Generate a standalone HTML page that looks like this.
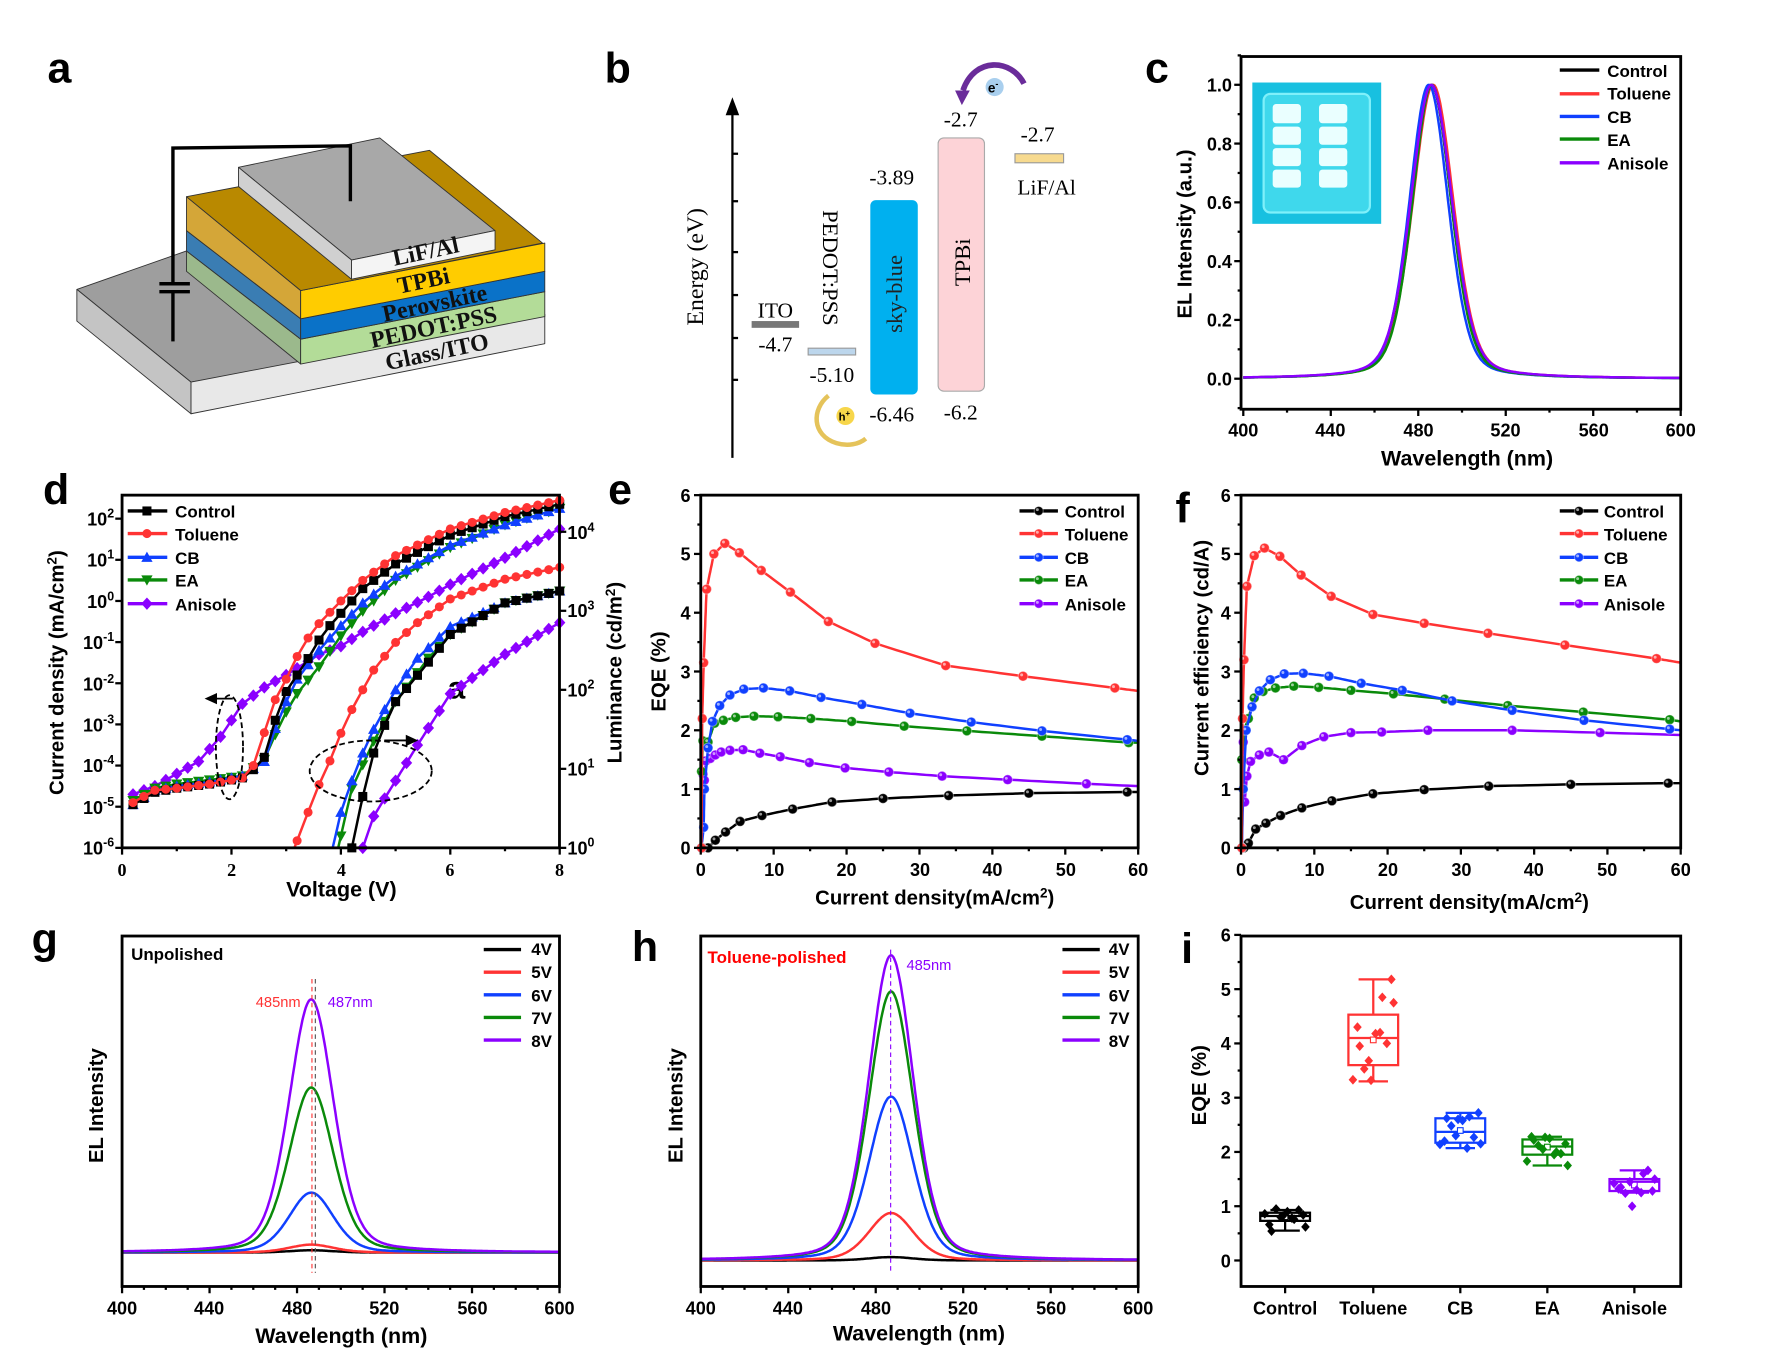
<!DOCTYPE html>
<html><head><meta charset="utf-8"><style>
html,body{margin:0;padding:0;background:#fff;}
svg{display:block;}
text{font-family:"Liberation Sans",Arial,sans-serif;}
.serif,.serif text,text.serif{font-family:"Liberation Serif","Times New Roman",serif;}
.b{font-weight:bold;}
</style></head><body>
<svg id="s" xmlns="http://www.w3.org/2000/svg" width="1770" height="1369" viewBox="0 0 1566 1211" preserveAspectRatio="none">
<rect width="1566" height="1211" fill="#fff"/>
<g class="b" font-size="38" font-weight="bold">
<text x="42" y="73">a</text><text x="535" y="73">b</text><text x="1013" y="73">c</text>
<text x="38" y="446">d</text><text x="538" y="446">e</text><text x="1040" y="462">f</text>
<text x="28" y="843">g</text><text x="559" y="850">h</text><text x="1045" y="852">i</text>
</g>

<!-- ===== panel a ===== -->
<g stroke="#333" stroke-width="0.8" stroke-linejoin="round">
<polygon points="68,256 165,222 266,322 169,338" fill="#9e9e9e"/>
<polygon points="68,256 169,338 169,366 68,284" fill="#c4c4c4"/>
<polygon points="169,338 482,278 482,304 169,366" fill="#e8e8e8"/>
<polygon points="165,222 266,300 266,322 165,240" fill="#9bb98c"/>
<polygon points="266,300 482,258 482,280 266,322" fill="#b3dc98"/>
<polygon points="165,204 266,282 266,300 165,222" fill="#3a7db3"/>
<polygon points="266,282 482,240 482,258 266,300" fill="#0a72c8"/>
<polygon points="165,174 266,257 266,282 165,204" fill="#d4a638"/>
<polygon points="266,257 482,215 482,240 266,282" fill="#ffcc00"/>
<polygon points="165,174 380,133 480,215 266,257" fill="#b98900"/>
<polygon points="211,148 336,122 438,204 311,230" fill="#a8a8a8"/>
<polygon points="211,148 311,230 311,247 211,165" fill="#d0d0d0"/>
<polygon points="311,230 438,204 438,221 311,247" fill="#f4f4f4"/>
</g>
<g fill="none" stroke="#000" stroke-width="3">
<polyline points="153,302 153,258"/><polyline points="153,250 153,131 310,129 310,178"/>
<line x1="141" y1="251" x2="168" y2="251"/><line x1="141" y1="258" x2="168" y2="258"/>
</g>
<g class="serif b" font-size="21" font-weight="bold" fill="#111">
<text transform="translate(378,229) rotate(-12)" text-anchor="middle">LiF/Al</text>
<text transform="translate(376,255) rotate(-12)" text-anchor="middle">TPBi</text>
<text transform="translate(386,275) rotate(-12)" text-anchor="middle">Perovskite</text>
<text transform="translate(385,296) rotate(-12)" text-anchor="middle">PEDOT:PSS</text>
<text transform="translate(388,318) rotate(-12)" text-anchor="middle">Glass/ITO</text>
</g>

<!-- ===== panel b ===== -->
<g>
<line x1="648" y1="405" x2="648" y2="98" stroke="#000" stroke-width="2"/>
<polygon points="648,86 642,102 654,102" fill="#000"/>
<g stroke="#000" stroke-width="2"><line x1="648" y1="136" x2="653" y2="136"/><line x1="648" y1="178" x2="653" y2="178"/><line x1="648" y1="223" x2="653" y2="223"/><line x1="648" y1="261" x2="653" y2="261"/><line x1="648" y1="299" x2="653" y2="299"/><line x1="648" y1="336" x2="653" y2="336"/></g>
<text class="serif" font-size="21" transform="translate(622,236) rotate(-90)" text-anchor="middle">Energy (eV)</text>
<rect x="665" y="284" width="42" height="6" fill="#777"/>
<rect x="715" y="308" width="42" height="6" fill="#bcd6ec" stroke="#999"/>
<rect x="770" y="177" width="42" height="172" rx="5" fill="#00b0ef"/>
<rect x="830" y="122" width="41" height="224" rx="5" fill="#fdd3d7" stroke="#aaa"/>
<rect x="898" y="136" width="43" height="8" fill="#f7da8f" stroke="#999"/>
<g class="serif" font-size="19" text-anchor="middle">
<text x="686" y="281">ITO</text><text x="686" y="311">-4.7</text>
<text x="736" y="338">-5.10</text><text x="789" y="163">-3.89</text>
<text x="789" y="373">-6.46</text><text x="850" y="112">-2.7</text>
<text x="850" y="371">-6.2</text><text x="918" y="125">-2.7</text><text x="926" y="172">LiF/Al</text>
<text transform="translate(728,237) rotate(90)" font-size="20">PEDOT:PSS</text>
<text transform="translate(798,260) rotate(-90)" font-size="20" fill="#222">sky-blue</text>
<text transform="translate(858,232) rotate(-90)" font-size="20">TPBi</text>
</g>
<path d="M906,74 C895,52 862,50 852,80" fill="none" stroke="#6a2c9a" stroke-width="5"/>
<polygon points="845,80 858,80 851,93" fill="#6a2c9a"/>
<circle cx="880" cy="77" r="8" fill="#a9cfee"/>
<text x="874" y="82" font-size="12" font-weight="bold">e<tspan dy="-5" font-size="8">-</tspan></text>
<path d="M733,350 C718,362 718,385 740,392 C750,395 760,393 766,388" fill="none" stroke="#e5c35a" stroke-width="4"/>
<circle cx="748" cy="368" r="8" fill="#f7d64a"/>
<text x="742" y="372" font-size="10" font-weight="bold">h<tspan dy="-4" font-size="7">+</tspan></text>
</g>

<!-- ===== panel c ===== -->
<g id="pc">
<rect x="1108" y="73" width="114" height="125" fill="#18c0e0"/>
<rect x="1118" y="83" width="94" height="105" rx="6" fill="#3fd8ec" stroke="#7ff0fa" stroke-width="2"/>
<g fill="#eaffff"><rect x="1126" y="92" width="25" height="17" rx="3"/><rect x="1167" y="92" width="25" height="17" rx="3"/><rect x="1126" y="112" width="25" height="16" rx="3"/><rect x="1167" y="112" width="25" height="16" rx="3"/><rect x="1126" y="131" width="25" height="16" rx="3"/><rect x="1167" y="131" width="25" height="16" rx="3"/><rect x="1126" y="150" width="25" height="16" rx="3"/><rect x="1167" y="150" width="25" height="16" rx="3"/></g>
</g>
<g font-size="16" font-weight="bold" text-anchor="end">
<text x="1090" y="341">0.0</text><text x="1090" y="289">0.2</text><text x="1090" y="237">0.4</text><text x="1090" y="185">0.6</text><text x="1090" y="133">0.8</text><text x="1090" y="81">1.0</text>
</g>
<g font-size="16" font-weight="bold" text-anchor="middle">
<text x="1100" y="386">400</text><text x="1177" y="386">440</text><text x="1255" y="386">480</text><text x="1332" y="386">520</text><text x="1410" y="386">560</text><text x="1487" y="386">600</text>
</g>
<text x="1298" y="412" font-size="19" font-weight="bold" text-anchor="middle">Wavelength (nm)</text>
<text transform="translate(1054,207) rotate(-90)" font-size="18" font-weight="bold" text-anchor="middle">EL Intensity (a.u.)</text>
<g font-size="15" font-weight="bold"><text x="1422" y="68">Control</text><text x="1422" y="88">Toluene</text><text x="1422" y="109">CB</text><text x="1422" y="129">EA</text><text x="1422" y="150">Anisole</text></g>

<!-- ===== panel d ===== -->
<g font-size="16" font-weight="bold" text-anchor="end">
<text x="101" y="465">10<tspan dy="-7" font-size="11">2</tspan></text>
<text x="101" y="501">10<tspan dy="-7" font-size="11">1</tspan></text>
<text x="101" y="538">10<tspan dy="-7" font-size="11">0</tspan></text>
<text x="101" y="574">10<tspan dy="-7" font-size="11">-1</tspan></text>
<text x="101" y="611">10<tspan dy="-7" font-size="11">-2</tspan></text>
<text x="101" y="647">10<tspan dy="-7" font-size="11">-3</tspan></text>
<text x="101" y="683">10<tspan dy="-7" font-size="11">-4</tspan></text>
<text x="101" y="720">10<tspan dy="-7" font-size="11">-5</tspan></text>
<text x="101" y="756">10<tspan dy="-7" font-size="11">-6</tspan></text>
</g>
<g font-size="16" font-weight="bold">
<text x="502" y="477">10<tspan dy="-7" font-size="11">4</tspan></text>
<text x="502" y="546">10<tspan dy="-7" font-size="11">3</tspan></text>
<text x="502" y="616">10<tspan dy="-7" font-size="11">2</tspan></text>
<text x="502" y="686">10<tspan dy="-7" font-size="11">1</tspan></text>
<text x="502" y="756">10<tspan dy="-7" font-size="11">0</tspan></text>
</g>
<g class="serif" font-size="16" font-weight="bold" text-anchor="middle">
<text x="108" y="775">0</text><text x="205" y="775">2</text><text x="302" y="775">4</text><text x="398" y="775">6</text><text x="495" y="775">8</text>
</g>
<text x="302" y="793" font-size="19" font-weight="bold" text-anchor="middle">Voltage (V)</text>
<text transform="translate(56,595) rotate(-90)" font-size="18" font-weight="bold" text-anchor="middle">Current density (mA/cm<tspan dy="-6" font-size="12">2</tspan><tspan dy="6">)</tspan></text>
<text transform="translate(550,595) rotate(-90)" font-size="18" font-weight="bold" text-anchor="middle">Luminance (cd/m<tspan dy="-6" font-size="12">2</tspan><tspan dy="6">)</tspan></text>
<g font-size="15" font-weight="bold"><text x="155" y="458">Control</text><text x="155" y="478">Toluene</text><text x="155" y="499">CB</text><text x="155" y="519">EA</text><text x="155" y="540">Anisole</text></g>
<text x="396" y="618" font-size="28" font-weight="bold">a</text>

<!-- ===== panel e ===== -->
<g font-size="16" font-weight="bold" text-anchor="end">
<text x="611" y="756">0</text><text x="611" y="704">1</text><text x="611" y="652">2</text><text x="611" y="600">3</text><text x="611" y="548">4</text><text x="611" y="496">5</text><text x="611" y="444">6</text>
</g>
<g font-size="16" font-weight="bold" text-anchor="middle">
<text x="620" y="775">0</text><text x="685" y="775">10</text><text x="749" y="775">20</text><text x="814" y="775">30</text><text x="878" y="775">40</text><text x="943" y="775">50</text><text x="1007" y="775">60</text>
</g>
<text x="827" y="800" font-size="18" font-weight="bold" text-anchor="middle">Current density(mA/cm<tspan dy="-6" font-size="12">2</tspan><tspan dy="6">)</tspan></text>
<text transform="translate(589,594) rotate(-90)" font-size="18" font-weight="bold" text-anchor="middle">EQE (%)</text>
<g font-size="15" font-weight="bold"><text x="942" y="458">Control</text><text x="942" y="478">Toluene</text><text x="942" y="499">CB</text><text x="942" y="519">EA</text><text x="942" y="540">Anisole</text></g>

<!-- ===== panel f ===== -->
<g font-size="16" font-weight="bold" text-anchor="end">
<text x="1089" y="756">0</text><text x="1089" y="704">1</text><text x="1089" y="652">2</text><text x="1089" y="600">3</text><text x="1089" y="548">4</text><text x="1089" y="496">5</text><text x="1089" y="444">6</text>
</g>
<g font-size="16" font-weight="bold" text-anchor="middle">
<text x="1098" y="775">0</text><text x="1163" y="775">10</text><text x="1228" y="775">20</text><text x="1293" y="775">30</text><text x="1357" y="775">40</text><text x="1422" y="775">50</text><text x="1487" y="775">60</text>
</g>
<text x="1300" y="804" font-size="18" font-weight="bold" text-anchor="middle">Current density(mA/cm<tspan dy="-6" font-size="12">2</tspan><tspan dy="6">)</tspan></text>
<text transform="translate(1069,582) rotate(-90)" font-size="18" font-weight="bold" text-anchor="middle">Current efficiency (cd/A)</text>
<g font-size="15" font-weight="bold"><text x="1419" y="458">Control</text><text x="1419" y="478">Toluene</text><text x="1419" y="499">CB</text><text x="1419" y="519">EA</text><text x="1419" y="540">Anisole</text></g>

<!-- ===== panel g / h ===== -->
<g font-size="16" font-weight="bold" text-anchor="middle">
<text x="108" y="1163">400</text><text x="185" y="1163">440</text><text x="263" y="1163">480</text><text x="340" y="1163">520</text><text x="418" y="1163">560</text><text x="495" y="1163">600</text>
<text x="620" y="1163">400</text><text x="697" y="1163">440</text><text x="775" y="1163">480</text><text x="852" y="1163">520</text><text x="930" y="1163">560</text><text x="1007" y="1163">600</text>
</g>
<text x="302" y="1188" font-size="19" font-weight="bold" text-anchor="middle">Wavelength (nm)</text>
<text x="813" y="1186" font-size="19" font-weight="bold" text-anchor="middle">Wavelength (nm)</text>
<text transform="translate(91,978) rotate(-90)" font-size="18" font-weight="bold" text-anchor="middle">EL Intensity</text>
<text transform="translate(604,978) rotate(-90)" font-size="18" font-weight="bold" text-anchor="middle">EL Intensity</text>
<text x="116" y="849" font-size="15" font-weight="bold">Unpolished</text>
<text x="626" y="852" font-size="15" font-weight="bold" fill="#f00">Toluene-polished</text>
<text x="266" y="891" font-size="13" fill="#f33" text-anchor="end">485nm</text>
<text x="290" y="891" font-size="13" fill="#8b00ff">487nm</text>
<text x="802" y="858" font-size="13" fill="#8b00ff">485nm</text>
<g font-size="15" font-weight="bold">
<text x="470" y="845">4V</text><text x="470" y="865">5V</text><text x="470" y="886">6V</text><text x="470" y="906">7V</text><text x="470" y="926">8V</text>
<text x="981" y="845">4V</text><text x="981" y="865">5V</text><text x="981" y="886">6V</text><text x="981" y="906">7V</text><text x="981" y="926">8V</text>
</g>

<!-- ===== panel i ===== -->
<g font-size="16" font-weight="bold" text-anchor="end">
<text x="1089" y="1121">0</text><text x="1089" y="1073">1</text><text x="1089" y="1025">2</text><text x="1089" y="977">3</text><text x="1089" y="929">4</text><text x="1089" y="881">5</text><text x="1089" y="833">6</text>
</g>
<g font-size="16" font-weight="bold" text-anchor="middle">
<text x="1137" y="1163">Control</text><text x="1215" y="1163">Toluene</text><text x="1292" y="1163">CB</text><text x="1369" y="1163">EA</text><text x="1446" y="1163">Anisole</text>
</g>
<text transform="translate(1067,960) rotate(-90)" font-size="18" font-weight="bold" text-anchor="middle">EQE (%)</text>

<g id="dyn"></g>
</svg>
<script>
(function(){
var NS='http://www.w3.org/2000/svg',G=document.getElementById('dyn');
function el(tag,a,p){var e=document.createElementNS(NS,tag);for(var k in a)e.setAttribute(k,a[k]);(p||G).appendChild(e);return e;}
function path(pts,c,w,extra){var d='';for(var i=0;i<pts.length;i++)d+=(i?'L':'M')+pts[i][0].toFixed(1)+','+pts[i][1].toFixed(1);var a={d:d,fill:'none',stroke:c,'stroke-width':w||2,'stroke-linejoin':'round'};for(var k in extra)a[k]=extra[k];return el('path',a);}
function interp(A,x){if(x<=A[0][0])return A[0][1];for(var i=1;i<A.length;i++){if(x<=A[i][0]){var t=(x-A[i-1][0])/(A[i][0]-A[i-1][0]);return A[i-1][1]+t*(A[i][1]-A[i-1][1]);}}return A[A.length-1][1];}
function box(x0,y0,x1,y1){el('rect',{x:x0,y:y0,width:x1-x0,height:y1-y0,fill:'none',stroke:'#000','stroke-width':2.5});}
function xt(x,y,len){el('line',{x1:x,y1:y,x2:x,y2:y+len,stroke:'#000','stroke-width':2});}
function yt(x,y,len){el('line',{x1:x,y1:y,x2:x-len,y2:y,stroke:'#000','stroke-width':2});}
function mark(t,x,y,c,s){s=s||4.2;
 if(t=='sq')el('rect',{x:x-s,y:y-s,width:2*s,height:2*s,fill:c});
 else if(t=='ci')el('circle',{cx:x,cy:y,r:s,fill:c});
 else if(t=='up')el('polygon',{points:(x)+','+(y-s-1)+' '+(x-s-1)+','+(y+s)+' '+(x+s+1)+','+(y+s),fill:c});
 else if(t=='dn')el('polygon',{points:(x)+','+(y+s+1)+' '+(x-s-1)+','+(y-s)+' '+(x+s+1)+','+(y-s),fill:c});
 else if(t=='di')el('polygon',{points:x+','+(y-s-1.5)+' '+(x+s+1)+','+y+' '+x+','+(y+s+1.5)+' '+(x-s-1)+','+y,fill:c});
 else if(t=='sp'){el('circle',{cx:x,cy:y,r:s,fill:c,stroke:'#fff','stroke-opacity':0.35,'stroke-width':1});el('circle',{cx:x-1.2,cy:y-1.2,r:1.3,fill:'#fff','fill-opacity':0.6});}
}
var COL={k:'#000',r:'#f33',b:'#1040ff',g:'#0a8a0a',p:'#8b00ff'};
function pv(x,c,f){var u=(x-c)/f;return 0.72*Math.exp(-4*Math.LN2*u*u)+0.28/(1+4*u*u);}

(function(){
 var X=function(l){return 1100+(l-400)*387/200},Y=function(v){return 335-v*260};
 var S=[['k',486,21.5],['r',486.8,22],['b',484.8,21],['g',486.2,21],['p',486,22.5]];
 S.forEach(function(s){var p=[];for(var l=400;l<=600;l+=0.5)p.push([X(l),Y(pv(l,s[1],s[2]))]);path(p,COL[s[0]],2.2);});
 box(1098,50,1487,362);
 for(var l=400;l<=600;l+=20)xt(X(l),362,l%40==0?6:3);
 for(var v=-0.1;v<=1.11;v+=0.1)yt(1098,Y(v),Math.round(v*10)%2==0?6:3);
 var ly=[62,83,103,123,144],lc=['k','r','b','g','p'];
 for(var i=0;i<5;i++)el('line',{x1:1380,y1:ly[i],x2:1415,y2:ly[i],stroke:COL[lc[i]],'stroke-width':3});
})();

(function(){
 var X=function(v){return 108+v*48.4},YJ=function(l){return 750-(l+6)*36.4},YL=function(l){return 750-l*69.9};
 var J={
 r:[[0.2,-4.9],[0.6,-4.6],[1.0,-4.55],[1.6,-4.45],[2.2,-4.3],[2.4,-4.0],[2.6,-3.2],[2.8,-2.4],[3.0,-1.9],[3.2,-1.35],[3.4,-0.9],[3.6,-0.55],[4.0,0.0],[4.4,0.5],[5.0,1.1],[6.0,1.75],[7.0,2.15],[8.0,2.45]],
 k:[[0.2,-4.95],[0.6,-4.65],[1.0,-4.55],[1.6,-4.45],[2.2,-4.3],[2.4,-4.1],[2.6,-3.8],[2.8,-2.9],[3.0,-2.2],[3.2,-1.8],[3.4,-1.4],[3.6,-0.95],[3.8,-0.6],[4.0,-0.3],[4.4,0.3],[5.0,0.9],[6.0,1.6],[7.0,2.05],[8.0,2.35]],
 b:[[0.2,-4.95],[0.6,-4.6],[1.0,-4.5],[1.6,-4.4],[2.2,-4.25],[2.6,-3.9],[2.8,-3.1],[3.0,-2.45],[3.2,-1.9],[3.6,-1.2],[4.0,-0.6],[4.4,-0.05],[5.0,0.6],[6.0,1.35],[7.0,1.85],[8.0,2.25]],
 g:[[0.2,-4.85],[0.6,-4.55],[1.0,-4.45],[1.6,-4.35],[2.2,-4.25],[2.6,-3.85],[2.8,-3.25],[3.0,-2.7],[3.2,-2.25],[3.6,-1.6],[4.0,-0.85],[4.4,-0.25],[5.0,0.5],[6.0,1.3],[7.0,1.85],[8.0,2.25]],
 p:[[0.2,-4.7],[0.6,-4.5],[1.0,-4.2],[1.4,-3.9],[1.8,-3.3],[2.2,-2.5],[2.6,-2.1],[3.0,-1.8],[3.6,-1.3],[4.0,-1.1],[4.4,-0.75],[5.0,-0.3],[5.6,0.1],[6.0,0.4],[7.0,1.05],[8.0,1.75]]};
 var L={
 r:[[3.15,0],[3.4,0.45],[3.6,0.8],[3.8,1.1],[4.0,1.45],[4.2,1.75],[4.4,2.0],[4.6,2.25],[5.0,2.6],[5.4,2.85],[6.0,3.15],[7.0,3.4],[8.0,3.55]],
 b:[[3.85,0],[4.0,0.45],[4.2,0.85],[4.4,1.2],[4.6,1.5],[5.0,2.0],[5.4,2.4],[6.0,2.8],[7.0,3.1],[8.0,3.25]],
 g:[[3.95,0],[4.2,0.75],[4.6,1.35],[5.0,1.85],[5.6,2.4],[6.0,2.7],[7.0,3.1],[8.0,3.25]],
 k:[[4.2,0],[4.4,0.65],[4.6,1.2],[4.8,1.55],[5.0,1.85],[5.6,2.35],[6.0,2.7],[7.0,3.1],[8.0,3.25]],
 p:[[4.4,0],[4.6,0.4],[5.0,0.85],[5.4,1.3],[6.0,1.95],[7.0,2.45],[8.0,2.85]]};
 var MT={k:'sq',r:'ci',b:'up',g:'dn',p:'di'};
 ['p','g','b','k','r'].forEach(function(s){
  var A=J[s],p=[];for(var v=0.2;v<=8.001;v+=0.1)p.push([X(v),YJ(interp(A,v))]);path(p,COL[s],2.2);
  for(var v=0.2;v<=8.001;v+=0.2)mark(MT[s],X(v),YJ(interp(A,v)),COL[s],4);
  var B=L[s],q=[];for(var v=B[0][0];v<=8.001;v+=0.05)q.push([X(v),YL(interp(B,v))]);path(q,COL[s],2.2);
  for(var v=Math.ceil(B[0][0]*5)/5;v<=8.001;v+=0.2)mark(MT[s],X(v),YL(interp(B,v)),COL[s],4);
 });
 box(108,438,495,750);
 for(var v=0;v<=8;v+=1)xt(X(v),750,v%2==0?6:3);
 for(var l=-6;l<=2;l++)yt(108,YJ(l),6);
 for(var l=0;l<=4;l++)el('line',{x1:495,y1:YL(l),x2:501,y2:YL(l),stroke:'#000','stroke-width':2});
 var ly=[452,472,493,513,534],lc=['k','r','b','g','p'];
 for(var i=0;i<5;i++){el('line',{x1:113,y1:ly[i],x2:148,y2:ly[i],stroke:COL[lc[i]],'stroke-width':3});mark(MT[lc[i]],130,ly[i],COL[lc[i]],4);}
 el('ellipse',{cx:203,cy:661,rx:12,ry:46,fill:'none',stroke:'#000','stroke-width':1.6,'stroke-dasharray':'5,3'});
 el('ellipse',{cx:328,cy:682,rx:54,ry:27,fill:'none',stroke:'#000','stroke-width':1.6,'stroke-dasharray':'5,3'});
 el('line',{x1:206,y1:618,x2:188,y2:618,stroke:'#000','stroke-width':1.6});
 el('polygon',{points:'181,618 192,613 192,623',fill:'#000'});
 el('line',{x1:340,y1:655,x2:362,y2:655,stroke:'#000','stroke-width':1.6});
 el('polygon',{points:'370,655 359,650 359,660',fill:'#000'});
})();

function effPanel(x0,x1,D){
 var X=function(j){return x0+j*(x1-x0)/60},Y=function(v){return 750-52*v};
 ['k','p','g','b','r'].forEach(function(s){var A=D[s],p=[];
  for(var i=0;i<A.length-1;i++){for(var t=0;t<1;t+=0.1){p.push([X(A[i][0]+t*(A[i+1][0]-A[i][0])),Y(A[i][1]+t*(A[i+1][1]-A[i][1]))]);}}
  p.push([X(A[A.length-1][0]),Y(A[A.length-1][1])]);path(p,COL[s],2.2);
  for(var i=0;i<A.length-1;i++)mark('sp',X(A[i][0]),Y(A[i][1]),COL[s],4.3);});
 box(x0,438,x1,750);
 for(var j=0;j<=60;j+=5)xt(X(j),750,j%10==0?6:3);
 for(var v=0;v<=6;v+=0.5)yt(x0,Y(v),v%1==0?6:3);
 var lx=(x0==620)?902:1380,ly=[452,472,493,513,534],lc=['k','r','b','g','p'];
 for(var i=0;i<5;i++){el('line',{x1:lx,y1:ly[i],x2:lx+34,y2:ly[i],stroke:COL[lc[i]],'stroke-width':3});mark('sp',lx+17,ly[i],COL[lc[i]],4);}
}
effPanel(620,1007,{
 r:[[0.1,0],[0.2,2.2],[0.4,3.15],[0.8,4.4],[1.8,5.0],[3.3,5.18],[5.3,5.02],[8.3,4.72],[12.3,4.35],[17.5,3.85],[23.9,3.48],[33.6,3.1],[44.2,2.92],[56.8,2.72],[60,2.67]],
 b:[[0.1,0],[0.4,0.35],[0.5,1.0],[1.0,1.7],[1.6,2.15],[2.6,2.42],[4.0,2.6],[5.9,2.7],[8.6,2.72],[12.2,2.67],[16.5,2.56],[22.1,2.44],[28.7,2.29],[37.1,2.14],[46.8,1.99],[58.5,1.84],[60,1.82]],
 g:[[0.1,1.3],[0.3,1.82],[1.0,1.8],[1.9,2.12],[3.1,2.17],[4.8,2.22],[7.3,2.24],[10.6,2.23],[15.1,2.2],[20.7,2.15],[27.9,2.07],[36.5,1.99],[46.8,1.9],[58.7,1.79],[60,1.79]],
 p:[[0.1,0],[0.3,1.25],[0.5,1.15],[0.7,1.48],[1.3,1.52],[2.0,1.58],[2.8,1.63],[4.0,1.66],[5.8,1.67],[8.1,1.61],[10.9,1.55],[14.9,1.45],[19.8,1.36],[25.8,1.29],[33.1,1.22],[42.1,1.16],[52.9,1.09],[60,1.05]],
 k:[[0.3,0],[1.0,0.0],[2.0,0.13],[3.4,0.27],[5.4,0.45],[8.4,0.55],[12.6,0.66],[18.0,0.78],[25.0,0.84],[34.0,0.89],[45.0,0.93],[58.5,0.95],[60,0.95]]});
effPanel(1098,1487,{
 r:[[0.1,0],[0.2,2.2],[0.4,3.2],[0.8,4.45],[1.8,4.97],[3.2,5.1],[5.3,4.96],[8.2,4.64],[12.3,4.28],[18,3.97],[25,3.82],[33.7,3.65],[44.2,3.45],[56.7,3.22],[60,3.15]],
 b:[[0.1,0],[0.3,1.0],[0.7,2.0],[1.5,2.4],[2.5,2.67],[4,2.86],[5.9,2.96],[8.5,2.97],[12,2.92],[16.4,2.8],[22,2.68],[28.8,2.5],[37,2.34],[46.8,2.17],[58.5,2.02],[60,2.0]],
 g:[[0.1,1.5],[0.4,2.0],[1,2.2],[1.8,2.55],[3,2.66],[4.7,2.72],[7.2,2.75],[10.6,2.73],[15,2.68],[20.8,2.62],[27.8,2.53],[36.4,2.42],[46.7,2.31],[58.5,2.18],[60,2.15]],
 p:[[0.1,0],[0.3,1.8],[0.5,0.78],[0.8,1.22],[1.3,1.47],[2.5,1.58],[3.8,1.63],[5.8,1.5],[8.3,1.74],[11.3,1.89],[15,1.96],[19.2,1.97],[25.5,2.0],[37,2.0],[49,1.96],[60,1.92]],
 k:[[0.4,0],[1,0.08],[2,0.32],[3.4,0.42],[5.4,0.55],[8.3,0.68],[12.4,0.8],[18,0.92],[25,0.99],[33.8,1.05],[45,1.08],[58.3,1.1],[60,1.1]]});

function specPanel(x0,x1,base,H,c,lx,dash){
 var X=function(l){return x0+(l-400)*(x1-x0)/200};
 var cols=['k','r','b','g','p'];
 for(var i=0;i<5;i++){var p=[];for(var l=400;l<=600;l+=0.5)p.push([X(l),base-H[i]*pv(l,c,24)]);path(p,COL[cols[i]],2.2);}
 dash();
 box(x0,828,x1,1138);
 for(var l=400;l<=600;l+=10)xt(X(l),1138,l%40==0?6:3);
 var ly=[840,860,880,900,920];
 for(var i=0;i<5;i++)el('line',{x1:lx,y1:ly[i],x2:lx+33,y2:ly[i],stroke:COL[cols[i]],'stroke-width':3});
}
specPanel(108,495,1108,[2,7,53,146,224],486.5,428,function(){
 el('line',{x1:276,y1:866,x2:276,y2:1126,stroke:'#f33','stroke-width':1,'stroke-dasharray':'4,3'});
 el('line',{x1:279,y1:866,x2:279,y2:1126,stroke:'#555','stroke-width':1,'stroke-dasharray':'4,3'});});
specPanel(620,1007,1115,[3,42,145,238,270],487,940,function(){
 el('line',{x1:788,y1:840,x2:788,y2:1126,stroke:'#8b00ff','stroke-width':1,'stroke-dasharray':'4,3'});});

(function(){
 var Y=function(v){return 1115-48*v};
 var J=[-14,8,-4,16,-18,2,12,-8,18,-12,6,-2];
 var D=[[1137,'k',0.73,0.88,0.82,0.55,0.93,[0.66,0.76,0.8,0.84,0.86,0.9,0.93,0.95,0.62,0.54,0.78,0.82]],
  [1215,'r',3.6,4.53,4.1,3.3,5.18,[4.3,4.85,3.68,5.18,3.33,4.18,4.0,3.53,4.75,3.95,4.2,3.32]],
  [1292,'b',2.17,2.62,2.37,2.07,2.72,[2.2,2.65,2.3,2.72,2.14,2.58,2.27,2.48,2.15,2.62,2.07,2.6]],
  [1369,'g',1.95,2.23,2.1,1.75,2.28,[2.28,2.0,2.05,2.15,1.83,2.25,1.97,2.12,1.75,2.22,1.95,2.27]],
  [1446,'p',1.28,1.5,1.45,1.25,1.66,[1.32,1.6,1.45,1.28,1.42,1.3,1.66,1.24,1.5,1.35,1.25,1.0]]];
 D.forEach(function(d){var x=d[0],c=COL[d[1]],w=22;
  el('rect',{x:x-w,y:Y(d[3]),width:2*w,height:Y(d[2])-Y(d[3]),fill:'none',stroke:c,'stroke-width':2});
  el('line',{x1:x-w,y1:Y(d[4]),x2:x+w,y2:Y(d[4]),stroke:c,'stroke-width':2});
  el('line',{x1:x,y1:Y(d[2]),x2:x,y2:Y(d[5]),stroke:c,'stroke-width':2});
  el('line',{x1:x,y1:Y(d[3]),x2:x,y2:Y(d[6]),stroke:c,'stroke-width':2});
  el('line',{x1:x-13,y1:Y(d[5]),x2:x+13,y2:Y(d[5]),stroke:c,'stroke-width':2});
  el('line',{x1:x-13,y1:Y(d[6]),x2:x+13,y2:Y(d[6]),stroke:c,'stroke-width':2});
  el('rect',{x:x-2.5,y:Y((d[2]+d[3])/2)-2.5,width:5,height:5,fill:'#fff',stroke:c,'stroke-width':1});
  var pts=d[7];for(var i=0;i<pts.length;i++){mark('di',x+J[i],Y(pts[i]),c,2.8);}
 });
 box(1098,828,1487,1138);
 for(var v=0;v<=6;v+=0.5)yt(1098,Y(v),v%1==0?6:3);
 D.forEach(function(d){xt(d[0],1138,6);});
})();
})();
</script>
</body></html>
